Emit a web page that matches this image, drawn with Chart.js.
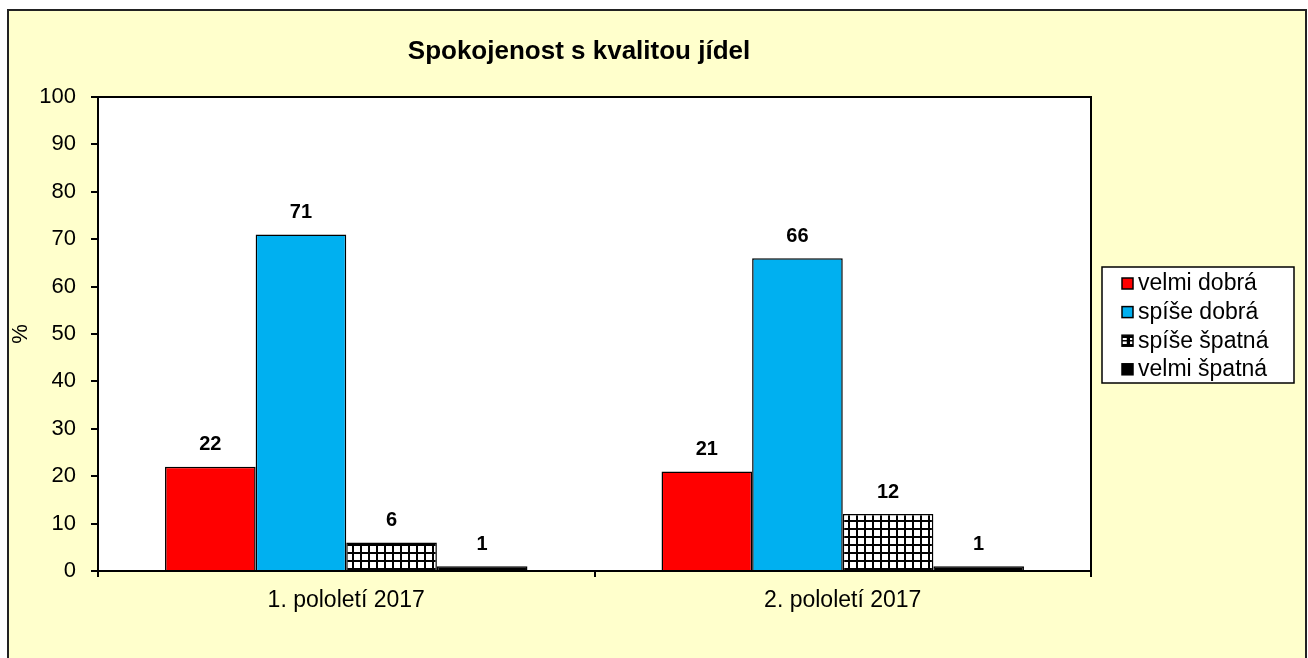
<!DOCTYPE html>
<html>
<head>
<meta charset="utf-8">
<script src="https://cdn.jsdelivr.net/npm/chart.js@4"></script>
<style>
  html, body { margin: 0; padding: 0; background: #fff; }
  #wrap { width: 1308px; height: 658px; position: relative; }
</style>
</head>
<body>
<div id="wrap"><canvas id="chart" width="1308" height="658"></canvas></div>
<script>
// data
const categories = ['1. pololetí 2017', '2. pololetí 2017'];
const seriesNames = ['velmi dobrá', 'spíše dobrá', 'spíše špatná', 'velmi špatná'];
const velmiDobra = [22, 21];
const spiseDobra = [71, 66];
const spiseSpatna = [6, 12];
const velmiSpatna = [1, 1];
const yTicks = [0, 10, 20, 30, 40, 50, 60, 70, 80, 90, 100];

const FONT = 'Arial, "Liberation Sans", sans-serif';

function makeGrid(size) {
    const c = document.createElement('canvas');
    c.width = size; c.height = size;
    const g = c.getContext('2d');
    g.fillStyle = '#fff';
    g.fillRect(0, 0, size, size);
    g.fillStyle = '#000';
    g.fillRect(0, 0, size, 2);
    g.fillRect(0, 0, 2, size);
    return document.getElementById('chart').getContext('2d').createPattern(c, 'repeat');
}
const gridPattern = makeGrid(8);

const colors = ['#FF0000', '#00B0F0', gridPattern, '#000000'];
const seriesData = [velmiDobra, spiseDobra, spiseSpatna, velmiSpatna];

// backdrop, plot frame, title, legend, value labels
const decor = {
    id: 'decor',
    beforeDraw(chart) {
        const ctx = chart.ctx;
        const a = chart.chartArea;
        ctx.save();
        ctx.fillStyle = '#fff';
        ctx.fillRect(0, 0, chart.width, chart.height);
        ctx.fillStyle = '#FFFFCC';
        ctx.fillRect(8, 10, 1298, 660);
        ctx.strokeStyle = '#222';
        ctx.lineWidth = 2;
        ctx.strokeRect(8, 10, 1298, 660);
        ctx.fillStyle = '#fff';
        ctx.fillRect(a.left, a.top, a.right - a.left, a.bottom - a.top);
        ctx.restore();
    },
    afterDraw(chart) {
        const ctx = chart.ctx;
        const a = chart.chartArea;
        ctx.save();
        ctx.strokeStyle = '#000';
        ctx.lineWidth = 2;
        ctx.strokeRect(a.left, a.top, a.right - a.left, a.bottom - a.top);

        // title
        ctx.fillStyle = '#000';
        ctx.font = 'bold 26px ' + FONT;
        ctx.textAlign = 'center';
        ctx.textBaseline = 'middle';
        ctx.fillText('Spokojenost s kvalitou jídel', 579, 52);

        // legend
        const lx = 1102, ly = 267, lw = 192, lh = 116;
        ctx.fillStyle = '#fff';
        ctx.fillRect(lx, ly, lw, lh);
        ctx.strokeStyle = '#000';
        ctx.lineWidth = 1.5;
        ctx.strokeRect(lx, ly, lw, lh);
        ctx.font = '23px ' + FONT;
        ctx.textAlign = 'left';
        seriesNames.forEach((name, i) => {
            const y = 283 + i * 28.6;
            ctx.fillStyle = colors[i];
            ctx.fillRect(1122, y - 5, 11, 11);
            ctx.strokeStyle = '#000';
            ctx.lineWidth = 1.5;
            ctx.strokeRect(1122, y - 5, 11, 11);
            if (i === 2) {
                ctx.beginPath();
                ctx.moveTo(1127.5, y - 5); ctx.lineTo(1127.5, y + 6);
                ctx.moveTo(1122, y + 0.5); ctx.lineTo(1133, y + 0.5);
                ctx.stroke();
            }
            ctx.fillStyle = '#000';
            ctx.fillText(name, 1138, y + 1);
        });

        // value labels
        ctx.font = 'bold 20px ' + FONT;
        ctx.textAlign = 'center';
        chart.data.datasets.forEach((ds, di) => {
            chart.getDatasetMeta(di).data.forEach((bar, i) => {
                ctx.fillText(String(ds.data[i]), bar.x, bar.y - 22);
            });
        });
        ctx.restore();
    }
};

new Chart(document.getElementById('chart'), {
    type: 'bar',
    data: {
        labels: categories,
        datasets: seriesNames.map((name, i) => ({
            label: name,
            data: seriesData[i],
            backgroundColor: colors[i],
            borderColor: '#000',
            borderWidth: 1.5,
            barPercentage: 1,
            categoryPercentage: 0.73
        }))
    },
    options: {
        responsive: false,
        animation: false,
        events: [],
        layout: { padding: { left: 0, top: 97, right: 217, bottom: 0 } },
        plugins: {
            legend: { display: false },
            title: { display: false },
            tooltip: { enabled: false }
        },
        scales: {
            x: {
                grid: {
                    drawOnChartArea: false, drawTicks: true, tickLength: 6,
                    color: '#000', lineWidth: 2, offset: true
                },
                border: { display: false },
                ticks: { color: '#000', font: { family: FONT, size: 23 }, padding: 10 },
                afterFit(scale) { scale.height = 87; }
            },
            y: {
                min: 0, max: 100,
                afterBuildTicks(scale) { scale.ticks = yTicks.map(v => ({ value: v })); },
                grid: {
                    drawOnChartArea: false, drawTicks: true, tickLength: 7,
                    color: '#000', lineWidth: 2
                },
                border: { display: false },
                ticks: { color: '#000', font: { family: FONT, size: 22 }, padding: 15 },
                title: {
                    display: true, text: '%', color: '#000',
                    font: { family: FONT, size: 22 }, padding: { top: 8, bottom: 0 }
                },
                afterFit(scale) { scale.width = 98; }
            }
        }
    },
    plugins: [decor]
});
</script>
</body>
</html>
